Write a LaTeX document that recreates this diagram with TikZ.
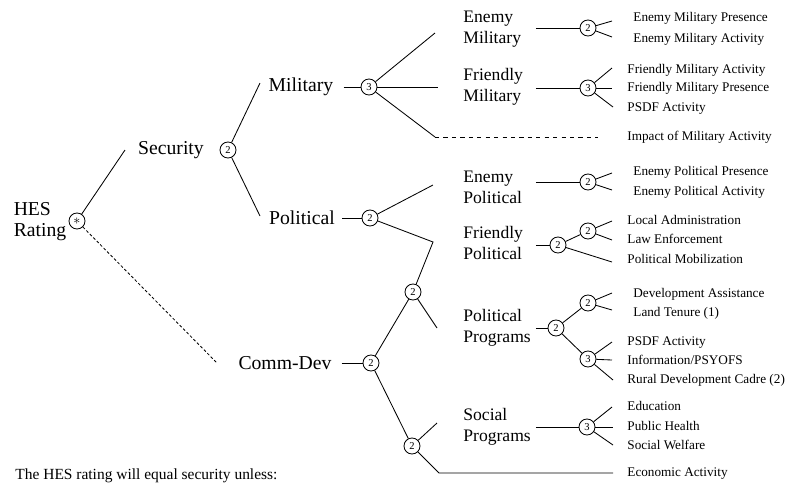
\documentclass[tikz,border=0pt]{standalone}
\usepackage{fontspec}
\setmainfont{Liberation Serif}
\begin{document}
\begin{tikzpicture}[x=0.025cm,y=-0.025cm,line width=0.6pt,
    rootlbl/.style={font=\fontsize{14}{15}\selectfont,align=left,inner sep=0pt},
    midlbl/.style={font=\fontsize{12.5}{15}\selectfont,align=left,text width=1.8cm,inner sep=0pt,anchor=west},
    leaflbl/.style={font=\fontsize{9.4}{11}\selectfont,inner sep=0pt,anchor=west,text height=7pt,text depth=2pt},
    junc/.style={draw,circle,inner sep=0pt,minimum size=0.4cm,font=\fontsize{7.5}{8}\selectfont},
    hesdash/.style={dash pattern=on 2pt off 1.5pt}]
    % x de las ramas y de las hojas
    \def\bx{612}
    \def\lx{627}
    \def\ix{633}
    \useasboundingbox (0,0) rectangle (790,483);

    % hes rating
    \node[rootlbl] (hes) at (40,222) {HES\\Rating};
    \node[junc,font=\fontsize{10}{10}\selectfont] (hesc) at (77,221) {$\ast$};
    \coordinate (toSec) at (125,150);
    \coordinate (toComm) at (217,363);
    \draw (hesc) -- (toSec);
    \draw[hesdash] (hesc) -- (toComm);

    % security
    \node[rootlbl] (security) at (171,150) {Security};
    \node[junc] (secc) at (228,150) {2};
    \coordinate (toMil) at (260,83);
    \coordinate (toPol) at (260,216);
    \draw (secc) -- (toMil);
    \draw (secc) -- (toPol);

    % military
    \node[rootlbl] (military) at (301,87) {Military};
    \node[junc] (milc) at (369,87) {3};
    \draw[shorten <=7pt] (military) -- (milc);
    \coordinate (toEneMil) at (435,33);
    \coordinate (toFriMil) at (438,87);
    \coordinate (toImp) at (435,137);
    \coordinate (impEnd) at (598,137);
    \draw (milc) -- (toEneMil);
    \draw (milc) -- (toFriMil);
    \draw (milc) -- (toImp);
    \draw[dashed] (toImp) -- (impEnd);
    \node[leaflbl] (impact) at (\lx,137) {Impact of Military Activity};

    % enemy military
    \node[midlbl] (enemil) at (463,29.5) {Enemy\\Military};
    \node[junc] (emc) at (588,28) {2};
    \draw (enemil.east |- emc) -- (emc);
    \coordinate (em1) at (\bx,21);
    \coordinate (em2) at (\bx,37);
    \draw (emc) -- (em1);
    \draw (emc) -- (em2);
    \node[leaflbl] (emp) at (\ix,18) {Enemy Military Presence};
    \node[leaflbl] (ema) at (\ix,39) {Enemy Military Activity};

    % friendly military
    \node[midlbl] (frimil) at (463,87) {Friendly\\Military};
    \node[junc] (fmc) at (588,88) {3};
    \draw (frimil.east |- fmc) -- (fmc);
    \coordinate (fm1) at (\bx,68);
    \coordinate (fm2) at (\bx,88);
    \coordinate (fm3) at (613,107);
    \draw (fmc) -- (fm1);
    \draw (fmc) -- (fm2);
    \draw (fmc) -- (fm3);
    \node[leaflbl] (fma) at (\lx,70) {Friendly Military Activity};
    \node[leaflbl] (fmp) at (\lx,88) {Friendly Military Presence};
    \node[leaflbl] (psdfa) at (\lx,108) {PSDF Activity};

    % comm-dev
    \node[rootlbl] (commdev) at (285,363) {Comm-Dev};
    \node[junc] (cdc) at (371,363) {2};
    \node[junc] (cdup) at (413,292) {2};
    \node[junc] (cdlow) at (412,446) {2};
    \draw[shorten <=7pt] (commdev) -- (cdc);
    \draw (cdc) -- (cdup);
    \draw (cdc) -- (cdlow);
    \coordinate (toPolProg) at (437,328);
    \coordinate (toSocProg) at (437,423);
    \coordinate (toEcon) at (439,473);
    \coordinate (econEnd) at (613,473);
    \draw (cdup) -- (toPolProg);
    \draw (cdlow) -- (toSocProg);
    \draw (cdlow) -- (toEcon) -- (econEnd);
    \node[leaflbl] (econ) at (\lx,473) {Economic Activity};

    % political
    \node[rootlbl] (political) at (302,218) {Political};
    \node[junc] (polc) at (370,218) {2};
    \draw[shorten <=5pt] (political) -- (polc);
    \coordinate (toEnePol) at (433,185);
    \coordinate (toFriPol) at (433,242);
    \draw (polc) -- (toEnePol);
    \draw (polc) -- (toFriPol) -- (cdup);

    % enemy political
    \node[midlbl] (enepol) at (463,187) {Enemy\\Political};
    \node[junc] (epc) at (588,182) {2};
    \draw (enepol.east |- epc) -- (epc);
    \coordinate (ep1) at (\bx,173);
    \coordinate (ep2) at (\bx,190);
    \draw (epc) -- (ep1);
    \draw (epc) -- (ep2);
    \node[leaflbl] (epp) at (\ix,172) {Enemy Political Presence};
    \node[leaflbl] (epa) at (\ix,192) {Enemy Political Activity};

    % friendly political
    \node[midlbl] (fripol) at (463,243) {Friendly\\Political};
    \node[junc] (fpa) at (558,245) {2};
    \node[junc] (fpb) at (588,231) {2};
    \draw (fripol.east |- fpa) -- (fpa);
    \draw (fpa) -- (fpb);
    \coordinate (fp1) at (\bx,221);
    \coordinate (fp2) at (\bx,240);
    \coordinate (fp3) at (\bx,262);
    \draw (fpb) -- (fp1);
    \draw (fpb) -- (fp2);
    \draw (fpa) -- (fp3);
    \node[leaflbl] (locadm) at (\lx,221) {Local Administration};
    \node[leaflbl] (lawenf) at (\lx,240) {Law Enforcement};
    \node[leaflbl] (polmob) at (\lx,260) {Political Mobilization};

    % political programs
    \node[midlbl] (polprog) at (463,328) {Political\\Programs};
    \node[junc] (ppa) at (556,328) {2};
    \node[junc] (ppb) at (588,303) {2};
    \node[junc] (ppc) at (588,359) {3};
    \draw (polprog.east |- ppa) -- (ppa);
    \draw (ppa) -- (ppb);
    \draw (ppa) -- (ppc);
    \coordinate (pp1) at (\bx,293);
    \coordinate (pp2) at (\bx,310);
    \coordinate (pp3) at (\bx,342);
    \coordinate (pp4) at (\bx,360);
    \coordinate (pp5) at (613,380);
    \draw (ppb) -- (pp1);
    \draw (ppb) -- (pp2);
    \draw (ppc) -- (pp3);
    \draw (ppc) -- (pp4);
    \draw (ppc) -- (pp5);
    \node[leaflbl] (devass) at (\ix,294) {Development Assistance};
    \node[leaflbl] (landten) at (\ix,313) {Land Tenure (1)};
    \node[leaflbl] (psdfb) at (\lx,342) {PSDF Activity};
    \node[leaflbl] (info) at (\lx,361) {Information/PSYOFS};
    \node[leaflbl] (rdc) at (\lx,380) {Rural Development Cadre (2)};

    % social programs
    \node[midlbl] (socprog) at (463,427) {Social\\Programs};
    \node[junc] (spc) at (587,427) {3};
    \draw (socprog.east |- spc) -- (spc);
    \coordinate (sp1) at (\bx,407);
    \coordinate (sp2) at (613,427);
    \coordinate (sp3) at (613,445);
    \draw (spc) -- (sp1);
    \draw (spc) -- (sp2);
    \draw (spc) -- (sp3);
    \node[leaflbl] (edu) at (\lx,407) {Education};
    \node[leaflbl] (health) at (\lx,427) {Public Health};
    \node[leaflbl] (welfare) at (\lx,446) {Social Welfare};

    % nota al pie
    \node[anchor=base west,inner sep=0pt,font=\fontsize{11}{13}\selectfont] (note) at (15,479.5) {The HES rating will equal security unless:};
\end{tikzpicture}
\end{document}
